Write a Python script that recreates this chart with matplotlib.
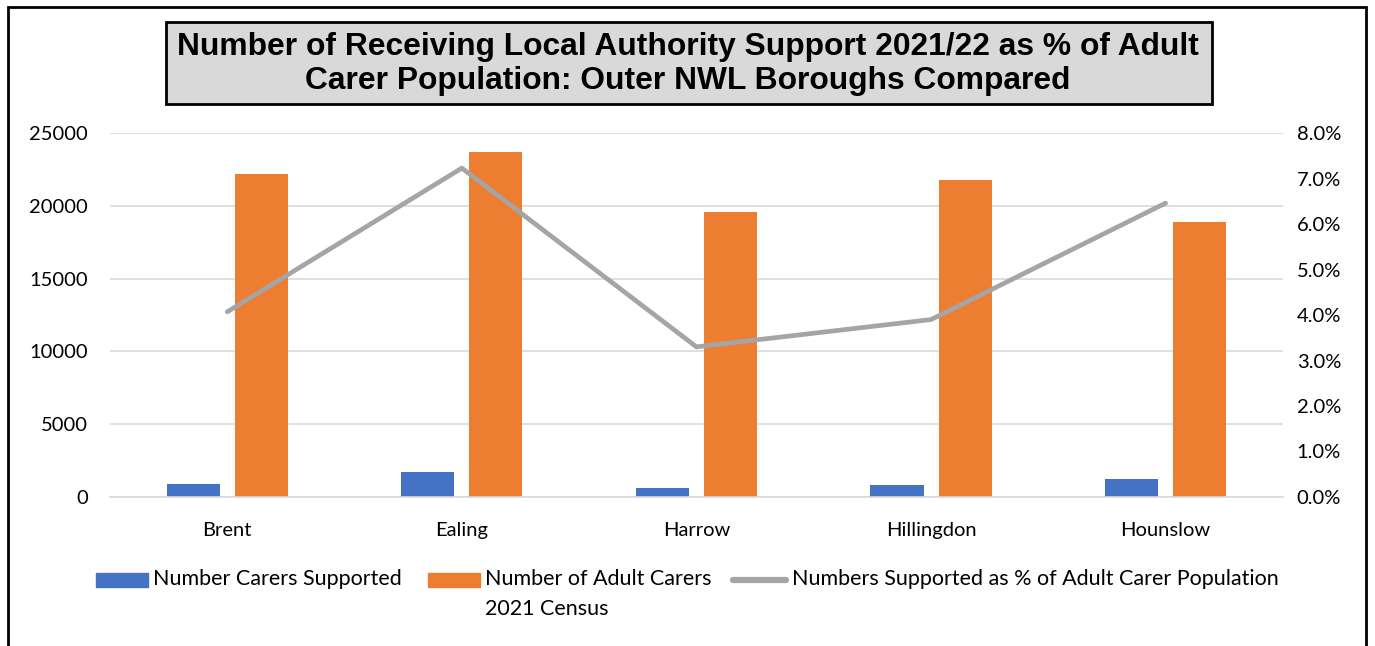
import numpy as np
import matplotlib.pyplot as plt
from matplotlib.patches import Rectangle
from matplotlib.ticker import PercentFormatter

boroughs = ['Brent', 'Ealing', 'Harrow', 'Hillingdon', 'Hounslow']
carers_supported = [900, 1710, 645, 850, 1220]
adult_carers = [22200, 23700, 19550, 21750, 18900]
pct_supported = [4.07, 7.23, 3.30, 3.90, 6.46]

left_ticks = [0, 5000, 10000, 15000, 20000, 25000]
right_ticks = [0, 1, 2, 3, 4, 5, 6, 7, 8]

series_names = ['Number Carers Supported', 'Number of Adult Carers\n2021 Census',
                'Numbers Supported as % of Adult Carer Population']

blue = '#4472c4'
orange = '#ed7d31'
grey = '#a5a5a5'
grid = '#d9d9d9'
tick_font = 'Lato'

W, H = 1375, 646
fig = plt.figure(figsize=(W / 100, H / 100), dpi=100)
ax = fig.add_axes([0.08, 0.2307, 0.853, 0.5633])

x = np.arange(len(boroughs))
w = 0.226
ax.bar(x - 0.145, carers_supported, w, color=blue, zorder=2)
ax.bar(x + 0.145, adult_carers, w, color=orange, zorder=2)

ax.set_xlim(-0.5, len(boroughs) - 0.5)
ax.set_ylim(0, 25000)
ax.set_yticks(left_ticks)
ax.set_xticks(x)
ax.set_xticklabels(boroughs, fontsize=14.5, family=tick_font)
for lab in ax.get_yticklabels():
    lab.set_fontsize(14.5)
    lab.set_family(tick_font)
ax.tick_params(axis='y', length=0, pad=16)
ax.tick_params(axis='x', length=0, pad=18)
ax.yaxis.grid(True, color=grid, linewidth=1.2, zorder=0)
ax.set_axisbelow(True)
for s in ['top', 'left', 'right']:
    ax.spines[s].set_visible(False)
ax.spines['bottom'].set_color(grid)
ax.spines['bottom'].set_linewidth(1.2)

# percentage line on the secondary axis
ax2 = ax.twinx()
ax2.plot(x, pct_supported, color=grey, linewidth=3.4, solid_capstyle='round', zorder=3)
ax2.set_ylim(0, 8)
ax2.set_yticks(right_ticks)
ax2.yaxis.set_major_formatter(PercentFormatter(decimals=1))
for lab in ax2.get_yticklabels():
    lab.set_fontsize(14.5)
    lab.set_family(tick_font)
ax2.tick_params(axis='y', length=0, pad=10)
for s in ax2.spines.values():
    s.set_visible(False)

# title in a grey box
fig.patches.append(Rectangle((166 / W, 1 - 104 / H), (1212 - 166) / W, 82 / H,
                             transform=fig.transFigure, facecolor='#d9d9d9', edgecolor='black',
                             linewidth=2, zorder=-1))
fig.text(0.5, 1 - 64 / H, 'Number of Receiving Local Authority Support 2021/22 as % of Adult\nCarer Population: Outer NWL Boroughs Compared',
         ha='center', va='center', fontsize=22.9, fontweight='bold', family='Liberation Sans',
         linespacing=1.2)

# outer frame
fig.patches.append(Rectangle((8 / W, -0.05), (1366 - 8) / W, 1.05 - 7 / H,
                             transform=fig.transFigure, facecolor='none', edgecolor='black',
                             linewidth=2))

# legend row
ly = 1 - 580 / H
fig.patches.append(Rectangle((96 / W, ly - 7 / H), 52 / W, 14 / H,
                             transform=fig.transFigure, color=blue))
fig.patches.append(Rectangle((428 / W, ly - 7 / H), 52 / W, 14 / H,
                             transform=fig.transFigure, color=orange))
fig.lines.append(plt.Line2D([733 / W, 786 / W], [ly, ly], transform=fig.transFigure,
                            color=grey, linewidth=4.5, solid_capstyle='round'))
for xt, name in zip([153, 485, 792], series_names):
    fig.text(xt / W, ly + 11 / H, name, ha='left', va='top', fontsize=15.5,
             family=tick_font, linespacing=1.65)

fig.savefig('out.png', dpi=100)
